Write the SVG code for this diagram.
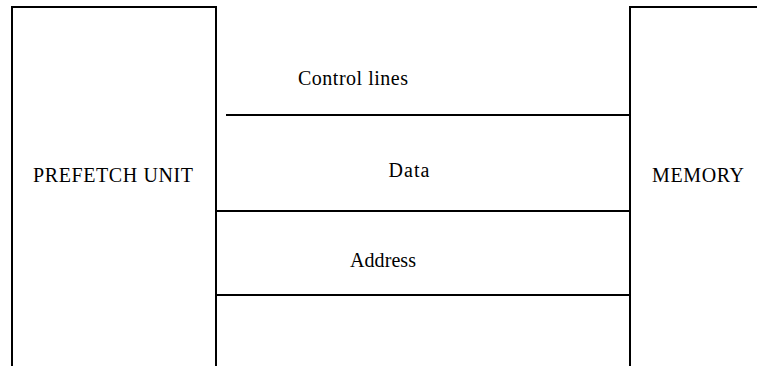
<svg xmlns="http://www.w3.org/2000/svg" width="757" height="366" viewBox="0 0 757 366">
  <style>
    .box { fill: none; stroke: #000; stroke-width: 2; }
    .bus { stroke: #000; stroke-width: 2; }
    .lbl { font-family: "Liberation Serif", "Times New Roman", serif; font-size: 20px; fill: #000; }
  </style>
  <rect width="757" height="366" fill="#fff"/>

  <g id="prefetch-unit">
    <path class="box" d="M12,367 V7 H216 V367"/>
    <text class="lbl" x="33" y="182" textLength="160" lengthAdjust="spacing">PREFETCH UNIT</text>
  </g>

  <g id="memory">
    <path class="box" d="M630,367 V7 H758"/>
    <text class="lbl" x="652" y="182" textLength="92" lengthAdjust="spacing">MEMORY</text>
  </g>

  <g id="connectors">
    <line class="bus" x1="226" y1="115" x2="630" y2="115"/>
    <line class="bus" x1="216" y1="211" x2="630" y2="211"/>
    <line class="bus" x1="216" y1="295" x2="630" y2="295"/>
    <text class="lbl" x="298" y="85" textLength="110" lengthAdjust="spacing">Control lines</text>
    <text class="lbl" x="388.5" y="177" textLength="41" lengthAdjust="spacing">Data</text>
    <text class="lbl" x="350" y="267" textLength="66" lengthAdjust="spacing">Address</text>
  </g>
</svg>
